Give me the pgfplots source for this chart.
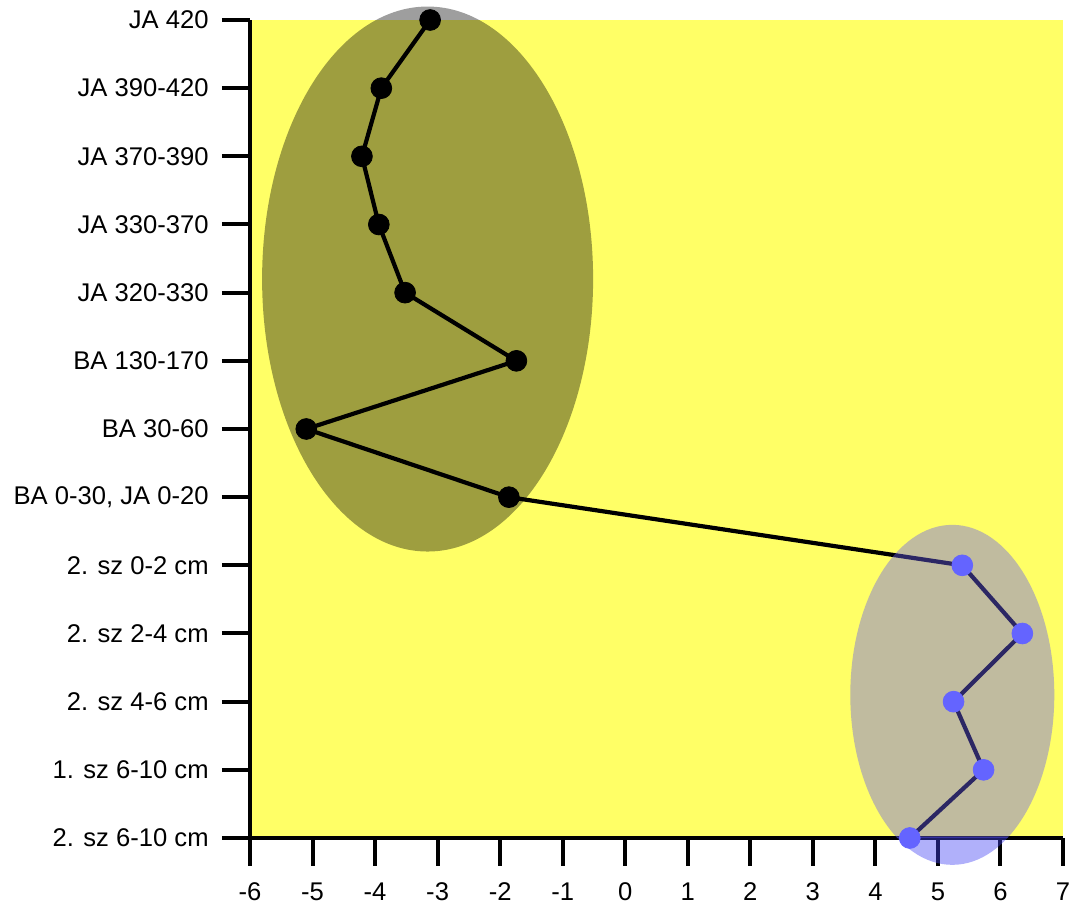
\documentclass[border=0pt]{standalone}
\usepackage{pgfplots}
\pgfplotsset{compat=1.18}
\usepackage{fontspec}
\setmainfont{Liberation Sans}
\definecolor{bgyellow}{RGB}{255,255,102}
\definecolor{ellin}{RGB}{105,93,240}
\definecolor{ellout}{RGB}{67,67,243}
\definecolor{mkblue}{RGB}{100,100,255}
\begin{document}
\begin{tikzpicture}
\begin{axis}[
  scale only axis,
  width=406.5pt, height=409pt,
  xmin=-6, xmax=7, ymin=0, ymax=12,
  clip=false,
  axis x line*=bottom, axis y line*=left,
  axis line style={line width=2pt, black},
  axis background/.style={fill=bgyellow},
  xtick={-6,-5,...,7},
  ytick={0,1,...,12},
  yticklabels={2. sz 6-10 cm,1. sz 6-10 cm,2. sz 4-6 cm,2. sz 2-4 cm,2. sz 0-2 cm,{BA 0-30, JA 0-20},BA 30-60,BA 130-170,JA 320-330,JA 330-370,JA 370-390,JA 390-420,JA 420},
  tick align=outside,
  major tick length=14pt,
  tick style={line width=2pt, black},
  every tick label/.append style={font=\fontsize{12.8pt}{15pt}\selectfont},
  /pgf/number format/assume math mode=true,
  yticklabel style={inner sep=0pt, xshift=-6.5pt},
  xticklabel style={inner sep=0pt, yshift=-8pt},
]
\fill[black, opacity=0.38] (axis cs:-3.16,8.2) ellipse [x radius=82.75pt, y radius=136.25pt];
\addplot[black, line width=2.1pt, mark=none] coordinates {
  (-3.12,12) (-3.90,11) (-4.21,10) (-3.94,9) (-3.52,8) (-1.74,7) (-5.10,6) (-1.86,5)
  (5.39,4) (6.35,3) (5.25,2) (5.73,1) (4.55,0)
};
\addplot[only marks, mark=*, mark size=5.2pt, black] coordinates {
  (-3.12,12) (-3.90,11) (-4.21,10) (-3.94,9) (-3.52,8) (-1.74,7) (-5.10,6) (-1.86,5)
};
\begin{scope}
\clip (rel axis cs:0,0) rectangle (rel axis cs:1,1);
\fill[ellin, opacity=0.42] (axis cs:5.23,2.10) ellipse [x radius=51pt, y radius=85pt];
\end{scope}
\begin{scope}
\clip (rel axis cs:0,0) rectangle (rel axis cs:1,-0.2);
\fill[ellout, opacity=0.42] (axis cs:5.23,2.10) ellipse [x radius=51pt, y radius=85pt];
\end{scope}
\addplot[only marks, mark=*, mark size=5.2pt, mkblue, mark options={draw=mkblue, fill=mkblue}] coordinates {
  (5.39,4) (6.35,3) (5.25,2) (5.73,1) (4.55,0)
};
\coordinate (sw) at (rel axis cs:0,0);
\coordinate (ne) at (rel axis cs:1,1);
\end{axis}
\pgfresetboundingbox
\path[use as bounding box] ([shift={(-125pt,-34pt)}]sw) rectangle ([shift={(6pt,10pt)}]ne);
\end{tikzpicture}
\end{document}
